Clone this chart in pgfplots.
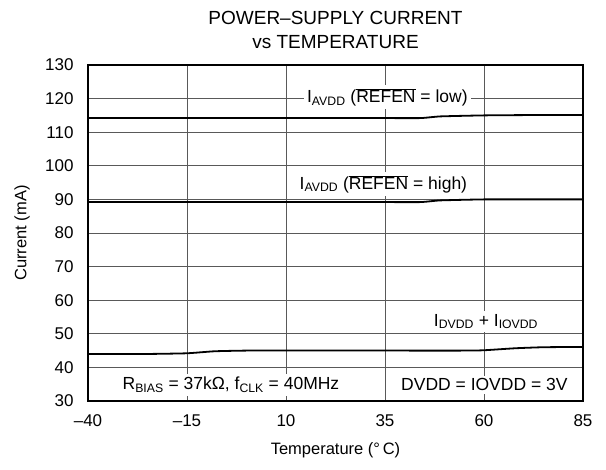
\documentclass[border=0pt]{standalone}
\usepackage{pgfplots}
\pgfplotsset{compat=1.18}
\usepackage{fontspec}
\setmainfont{Liberation Sans}

\newcommand{\fs}[1]{\fontsize{#1}{#1}\selectfont}

\begin{document}
\begin{tikzpicture}
\begin{axis}[
    at={(0,0)}, anchor=south west,
    scale only axis,
    width=495pt, height=336pt,
    xmin=-40, xmax=85,
    ymin=30, ymax=130,
    xtick={-40,-15,10,35,60,85},
    xticklabels={–40,–15,10,35,60,85},
    ytick={30,40,...,130},
    /pgf/number format/assume math mode=true,
    grid=major,
    major grid style={line width=0.8pt, draw=black!65},
    axis line style={line width=1.6pt},
    tick style={draw=none},
    tick label style={font=\fs{17}},
    yticklabel style={xshift=-11pt},
    xticklabel style={yshift=-10pt},
    xlabel={Temperature (°\,C)},
    ylabel={Current (mA)},
    xlabel style={font=\fs{16.5}, at={(axis description cs:0.5,0)}, anchor=center, yshift=-49pt},
    ylabel style={font=\fs{16.5}, at={(axis description cs:0,0.5)}, anchor=center, rotate=0, xshift=0pt, yshift=66pt},
    clip=false,
]

% I_AVDD, REFEN low
\addplot[black, line width=1.8pt, smooth, tension=0.3] coordinates {
    (-40,114.2) (-15,114.2) (10,114.2) (35,114.2) (44,114.2) (49,114.7) (60,115.0) (72,115.1) (85,115.1)
};
% I_AVDD, REFEN high
\addplot[black, line width=1.8pt, smooth, tension=0.3] coordinates {
    (-40,89.2) (-15,89.2) (10,89.2) (35,89.2) (44,89.2) (49,89.7) (60,90.0) (72,90.0) (85,90.0)
};
% I_DVDD + I_IOVDD
\addplot[black, line width=1.8pt, smooth, tension=0.3] coordinates {
    (-40,44.0) (-25,44.0) (-15,44.2) (-8,44.8) (0,45.0) (10,45.0) (35,45.0) (55,45.0) (60,45.1) (68,45.7) (75,46.0) (85,46.1)
};

\node[fill=white, inner sep=3pt, font=\fs{17.5}] at (axis cs:35.6,120.4) {I\textsubscript{AVDD} ($\overline{\hbox{REFEN}}$ = low)};
\node[fill=white, inner sep=3pt, font=\fs{17.5}] at (axis cs:34.6,94.6) {I\textsubscript{AVDD} ($\overline{\hbox{REFEN}}$ = high)};
\node[fill=white, inner sep=3pt, font=\fs{17.5}] at (axis cs:60.5,53.6) {I\textsubscript{DVDD} + I\textsubscript{IOVDD}};
\node[fill=white, inner sep=3pt, font=\fs{17.5}] at (axis cs:-3.9,34.8) {R\textsubscript{BIAS} = 37kΩ, f\textsubscript{CLK} = 40MHz};
\node[fill=white, inner sep=3pt, font=\fs{17.5}] at (axis cs:60.1,34.8) {DVDD = IOVDD = 3V};

\node[font=\fs{19}] at (rel axis cs:0.5,1) [yshift=47pt] {POWER–SUPPLY CURRENT};
\node[font=\fs{19}] at (rel axis cs:0.5,1) [yshift=23pt] {vs TEMPERATURE};
\end{axis}
\path[use as bounding box] (-88pt,-69pt) rectangle (518pt,401pt);
\end{tikzpicture}
\end{document}
